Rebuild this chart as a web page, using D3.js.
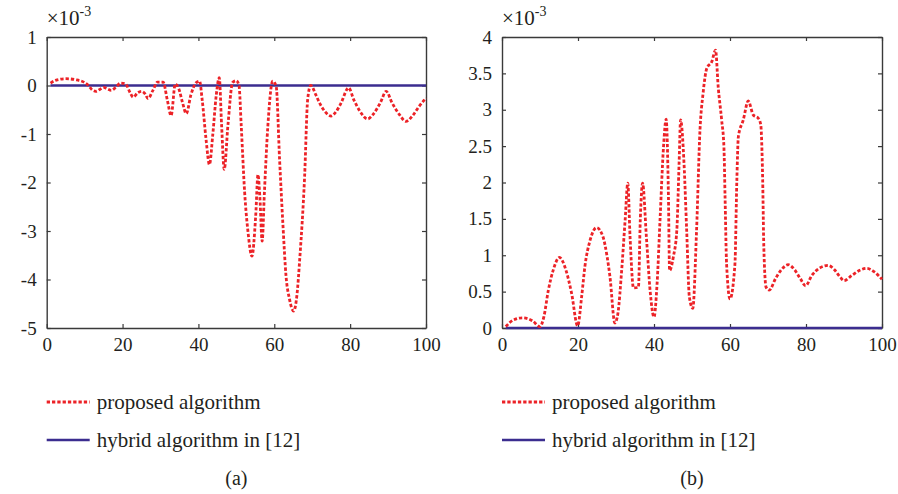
<!DOCTYPE html>
<html>
<head>
<meta charset="utf-8">
<script src="https://cdn.jsdelivr.net/npm/d3@7"></script>
<style>
  body { margin: 0; background: #fff; }
  text { font-family: "Liberation Serif", "DejaVu Serif", serif; fill: #231f20; }
</style>
</head>
<body>
<div id="chart"></div>
<script>
var width = 898;
var height = 494;

// panel (a): values in units of 1e-3
var aX = [1, 2.5, 5, 7.5, 10, 11, 12, 13, 14, 15, 16, 17, 18.3, 19.5, 20.8, 22, 22.8, 24, 25, 26, 26.7, 28, 29.2, 30.7, 31.8, 32.8, 33.9, 34.8, 35.8, 36.8, 38, 39.3, 40.3, 41, 42, 42.9, 43.8, 44.7, 45.5, 46.1, 46.8, 47.8, 49, 50, 50.7, 51.3, 52.2, 53.1, 54.1, 55.1, 55.7, 56.2, 56.8, 57.4, 58.3, 59.6, 60.5, 61.4, 62.3, 63.1, 64, 65.1, 66, 66.7, 68, 68.8, 69.6, 71, 72, 73.5, 75, 76.2, 77.5, 79.6, 81, 82.5, 84.6, 86, 88, 89.5, 91, 93, 94.7, 96.5, 98, 100];
var aY = [0.05, 0.11, 0.14, 0.12, 0.06, 0.0, -0.09, -0.12, -0.08, -0.04, -0.07, -0.1, -0.03, 0.05, 0.03, -0.15, -0.24, -0.15, -0.12, -0.18, -0.27, -0.1, 0.07, 0.07, -0.3, -0.62, 0.03, -0.06, -0.35, -0.58, -0.2, 0.05, 0.09, -0.3, -1.1, -1.63, -1.0, -0.2, 0.16, -0.8, -1.73, -0.8, 0.06, 0.1, 0.0, -0.85, -2.22, -3.04, -3.52, -2.69, -1.84, -2.3, -3.21, -2.2, -0.84, 0.09, -0.02, -1.53, -2.9, -3.93, -4.4, -4.65, -4.3, -3.59, -1.87, -0.29, 0.0, -0.2, -0.37, -0.55, -0.63, -0.55, -0.38, -0.05, -0.3, -0.52, -0.69, -0.6, -0.35, -0.12, -0.35, -0.6, -0.74, -0.62, -0.45, -0.26];

// panel (b): values in units of 1e-3
var bX = [1, 3, 5.5, 8, 10, 11, 12.2, 13.5, 15.1, 16.8, 18.3, 19.9, 21, 21.8, 23.2, 24.9, 26.6, 27.6, 28.4, 29.7, 30.5, 31.5, 32.4, 33.1, 33.7, 34.6, 35.9, 36.4, 37, 38, 39, 40, 40.8, 41.6, 42.5, 43.2, 43.8, 44.1, 45.1, 46, 46.6, 47, 47.9, 48.6, 49.3, 50.2, 51.2, 52.1, 52.9, 53.9, 55.2, 56.2, 56.9, 57.8, 58.4, 58.7, 59.1, 60, 61.3, 61.8, 62.2, 63.5, 64.8, 66.1, 67.5, 68.1, 68.6, 68.9, 69.5, 70.3, 72, 73.5, 75.3, 77, 78.5, 79.9, 81.5, 83.5, 85.9, 87.5, 89, 90, 92, 94, 96, 98, 100];
var bY = [0.02, 0.11, 0.14, 0.1, 0.02, 0.15, 0.52, 0.8, 0.97, 0.8, 0.48, 0.03, 0.45, 0.84, 1.21, 1.38, 1.25, 1.0, 0.71, 0.07, 0.2, 0.8, 1.48, 1.99, 1.25, 0.55, 0.56, 1.5, 1.99, 1.25, 0.5, 0.15, 0.6, 1.5, 2.49, 2.87, 1.8, 0.79, 0.98, 1.34, 2.26, 2.86, 2.26, 1.34, 0.43, 0.27, 1.34, 2.72, 3.22, 3.57, 3.66, 3.82, 3.31, 2.86, 2.49, 1.8, 0.88, 0.4, 0.88, 2.03, 2.63, 2.86, 3.12, 2.93, 2.88, 2.79, 2.03, 1.11, 0.56, 0.52, 0.68, 0.8, 0.87, 0.8, 0.68, 0.58, 0.72, 0.82, 0.86, 0.8, 0.7, 0.65, 0.72, 0.79, 0.82, 0.77, 0.67];

// hybrid algorithm in [12] stays at zero
var hybridX = [1, 100];
var hybridY = [0, 0];

var xTicks = [0, 20, 40, 60, 80, 100];
var aTicks = [-5, -4, -3, -2, -1, 0, 1];
var bTicks = [0, 0.5, 1, 1.5, 2, 2.5, 3, 3.5, 4];

var legendLabels = ["proposed algorithm", "hybrid algorithm in [12]"];
var panelLabels = ["(a)", "(b)"];

var red = "#ec2227";
var blue = "#3b2d8f";

var svg = d3.select("#chart")
  .append("svg")
  .attr("width", width)
  .attr("height", height)
  .style("display", "block");

var panels = [
  { left: 46.7, right: 426, xs: aX, ys: aY, domain: [-5, 1], ticks: aTicks, label: panelLabels[0] },
  { left: 502, right: 882, xs: bX, ys: bY, domain: [0, 4], ticks: bTicks, label: panelLabels[1] }
];
var plotTop = 37, plotBottom = 328;

panels.forEach(function(p) {
  var x = d3.scaleLinear().domain([0, 100]).range([p.left, p.right]);
  var y = d3.scaleLinear().domain(p.domain).range([plotBottom, plotTop]);
  var g = svg.append("g");

  // bottom / top / left / right axes, ticks pointing inward
  g.append("g")
    .attr("transform", `translate(0,${plotBottom})`)
    .call(d3.axisBottom(x).tickValues(xTicks).tickSizeInner(-4).tickSizeOuter(0).tickPadding(10).tickFormat(d3.format("d")));
  g.append("g")
    .attr("transform", `translate(0,${plotTop})`)
    .call(d3.axisTop(x).tickValues(xTicks).tickSizeInner(-4).tickSizeOuter(0).tickFormat(""));
  g.append("g")
    .attr("transform", `translate(${p.left},0)`)
    .call(d3.axisLeft(y).tickValues(p.ticks).tickSizeInner(-4).tickSizeOuter(0).tickPadding(10)
      .tickFormat(d => String(d)));
  g.append("g")
    .attr("transform", `translate(${p.right},0)`)
    .call(d3.axisRight(y).tickValues(p.ticks).tickSizeInner(-4).tickSizeOuter(0).tickFormat(""));

  g.selectAll(".domain").attr("stroke", "#3a3a3a").attr("stroke-width", 1.4);
  g.selectAll(".tick line").attr("stroke", "#3a3a3a").attr("stroke-width", 1.2);
  g.selectAll(".tick text").style("font-size", "19px").attr("fill", "#231f20")
    .style("font-family", '"Liberation Serif", serif');

  // exponent label
  var ex = g.append("text").attr("x", p.left).attr("y", 25).style("font-size", "21px");
  ex.append("tspan").text("\u00d710");
  ex.append("tspan").attr("dy", -9).style("font-size", "14px").text("-3");

  var hyb = hybridX.map((d, i) => [d, hybridY[i]]);
  g.append("path")
    .datum(hyb)
    .attr("fill", "none")
    .attr("stroke", blue)
    .attr("stroke-width", 2.6)
    .attr("d", d3.line().x(d => x(d[0])).y(d => y(d[1])));

  var pts = p.xs.map((d, i) => [d, p.ys[i]]);
  g.append("path")
    .datum(pts)
    .attr("fill", "none")
    .attr("stroke", red)
    .attr("stroke-width", 2.8)
    .attr("stroke-dasharray", "3.3,2")
    .attr("d", d3.line().curve(d3.curveMonotoneX).x(d => x(d[0])).y(d => y(d[1])));

  // legend
  var lx = p.left;
  var leg = g.append("g");
  leg.append("line").attr("x1", lx).attr("x2", lx + 43).attr("y1", 402).attr("y2", 402)
    .attr("stroke", red).attr("stroke-width", 2.8).attr("stroke-dasharray", "3.3,2");
  leg.append("text").attr("x", lx + 50).attr("y", 402).attr("dy", "0.33em")
    .style("font-size", "21px").text(legendLabels[0]);
  leg.append("line").attr("x1", lx).attr("x2", lx + 43).attr("y1", 440).attr("y2", 440)
    .attr("stroke", blue).attr("stroke-width", 2.6);
  leg.append("text").attr("x", lx + 50).attr("y", 440).attr("dy", "0.33em")
    .style("font-size", "21px").text(legendLabels[1]);

  g.append("text")
    .attr("x", (p.left + p.right) / 2)
    .attr("y", 478)
    .attr("dy", "0.33em")
    .attr("text-anchor", "middle")
    .style("font-size", "20px")
    .text(p.label);
});
</script>
</body>
</html>
